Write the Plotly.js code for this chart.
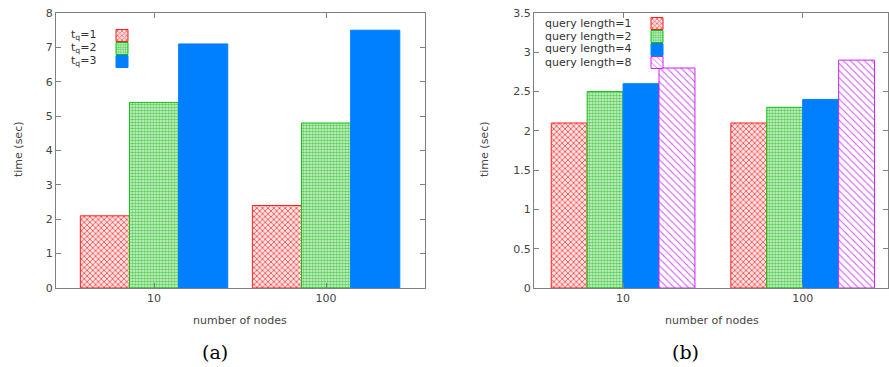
<!DOCTYPE html>
<html><head><meta charset="utf-8">
<script src="https://cdn.plot.ly/plotly-3.0.1.min.js"></script>
<style>html,body{margin:0;padding:0;background:#fff}</style>
</head><body>
<div id="chart" style="width:889px;height:367px"></div>
<script>
// Panel (a)
const categories = ["10", "100"];
const namesA = ["t<sub>q</sub>=1", "t<sub>q</sub>=2", "t<sub>q</sub>=3"];
const tq1 = [2.1, 2.4];
const tq2 = [5.4, 4.8];
const tq3 = [7.1, 7.5];
// Panel (b)
const namesB = ["query length=1", "query length=2", "query length=4", "query length=8"];
const ql1 = [2.1, 2.1];
const ql2 = [2.5, 2.3];
const ql4 = [2.6, 2.4];
const ql8 = [2.8, 2.9];
const xTitle = "number of nodes";
const yTitle = "time (sec)";
const captions = ["(a)", "(b)"];

const styles = [
  {line:'#ff2020', fg:'#ff5050', bg:'#ffe4e4', shape:'x', size:4, sol:0.4},
  {line:'#10c010', fg:'#60d060', bg:'#d8f5d8', shape:'.', size:3, sol:0.55},
  {line:'#0080ff', fg:'#0080ff', bg:'#0080ff', shape:'', size:8, sol:0.5},
  {line:'#cc22ff', fg:'#d050ff', bg:'#ffffff', shape:'\\', size:5, sol:0.2}
];
const FONT = "DejaVu Sans, sans-serif";
const W = 889, H = 367;

function bar(name, y, i, n, w, xa, ya, legend){
  const s = styles[i];
  const marker = {color: s.bg, line:{color:s.line, width:1}};
  if (s.shape) marker.pattern = {shape:s.shape, fgcolor:s.fg, bgcolor:s.bg, size:s.size, solidity:s.sol, fillmode:'replace'};
  return {type:'bar', x:categories, y:y, name:' ', legend:legend, xaxis:xa, yaxis:ya,
    width:w, offset:(-n/2 + i)*w, marker:marker, hoverinfo:'skip'};
}

const wA = 2/7, wB = 0.2;
const data = [
  bar(namesA[0], tq1, 0, 3, wA, 'x', 'y', 'legend'),
  bar(namesA[1], tq2, 1, 3, wA, 'x', 'y', 'legend2'),
  bar(namesA[2], tq3, 2, 3, wA, 'x', 'y', 'legend3'),
  bar(namesB[0], ql1, 0, 4, wB, 'x2', 'y2', 'legend4'),
  bar(namesB[1], ql2, 1, 4, wB, 'x2', 'y2', 'legend5'),
  bar(namesB[2], ql4, 2, 4, wB, 'x2', 'y2', 'legend6'),
  bar(namesB[3], ql8, 3, 4, wB, 'x2', 'y2', 'legend7')
];

const yDom = [1 - 288/H, 1 - 13/H];
const axCommon = {showgrid:false, zeroline:false, showline:true, linecolor:'#808080', linewidth:1,
  mirror:'ticks', ticks:'inside', ticklen:5, tickcolor:'#808080',
  tickfont:{family:FONT, size:11, color:'#444'}};

const layout = {
  width:W, height:H, margin:{l:0,r:0,t:0,b:0}, paper_bgcolor:'#fff', plot_bgcolor:'#fff',
  barmode:'overlay', showlegend:true,
  xaxis: Object.assign({}, axCommon, {domain:[56/W, 425/W], type:'category', range:[-0.57, 1.575], anchor:'y'}),
  yaxis: Object.assign({}, axCommon, {domain:yDom, range:[0, 8], dtick:1, anchor:'x'}),
  xaxis2: Object.assign({}, axCommon, {domain:[534/W, 888/W], type:'category', range:[-0.496, 1.475], anchor:'y2'}),
  yaxis2: Object.assign({}, axCommon, {domain:yDom, range:[0, 3.5], dtick:0.5, anchor:'x2'}),
  annotations: []
};

// one legend per row so that rows can be spaced like the reference (swatch right of text)
const rowsA = [35, 48, 61], rowsB = [23, 36, 49, 62];
const legA_x = 125, legB_x = 660;
function legendAt(xc, yc){
  return {x:(xc-23)/W, y:1-(yc-14)/H, xanchor:'left', yanchor:'top', bgcolor:'rgba(0,0,0,0)',
    font:{family:FONT, size:11, color:'#333'}, borderwidth:0};
}
const legKeys = ['legend','legend2','legend3','legend4','legend5','legend6','legend7'];
rowsA.forEach((y,i)=>{ layout[legKeys[i]] = legendAt(legA_x, y); });
rowsB.forEach((y,i)=>{ layout[legKeys[3+i]] = legendAt(legB_x, y); });

const ann = layout.annotations;
const tf = {family:FONT, size:11, color:'#333'};
namesA.forEach((t,i)=>ann.push({text:t, xref:'paper', yref:'paper', x:98/W, y:1-rowsA[i]/H, xanchor:'right', yanchor:'middle', showarrow:false, font:tf}));
namesB.forEach((t,i)=>ann.push({text:t, xref:'paper', yref:'paper', x:634/W, y:1-rowsB[i]/H, xanchor:'right', yanchor:'middle', showarrow:false, font:tf}));
const lf = {family:FONT, size:11, color:'#444'};
ann.push({text:yTitle, xref:'paper', yref:'paper', x:18/W, y:1-150/H, xanchor:'center', yanchor:'middle', textangle:-90, showarrow:false, font:lf});
ann.push({text:yTitle, xref:'paper', yref:'paper', x:484/W, y:1-150/H, xanchor:'center', yanchor:'middle', textangle:-90, showarrow:false, font:lf});
ann.push({text:xTitle, xref:'paper', yref:'paper', x:240/W, y:1-320/H, xanchor:'center', yanchor:'middle', showarrow:false, font:lf});
ann.push({text:xTitle, xref:'paper', yref:'paper', x:712/W, y:1-320/H, xanchor:'center', yanchor:'middle', showarrow:false, font:lf});
ann.push({text:captions[0], xref:'paper', yref:'paper', x:215/W, y:1-352/H, xanchor:'center', yanchor:'middle', showarrow:false, font:{family:'DejaVu Serif, serif', size:19, color:'#000'}});
ann.push({text:captions[1], xref:'paper', yref:'paper', x:685/W, y:1-352/H, xanchor:'center', yanchor:'middle', showarrow:false, font:{family:'DejaVu Serif, serif', size:19, color:'#000'}});

Plotly.newPlot('chart', data, layout, {staticPlot:true, displayModeBar:false});
</script>
</body></html>
